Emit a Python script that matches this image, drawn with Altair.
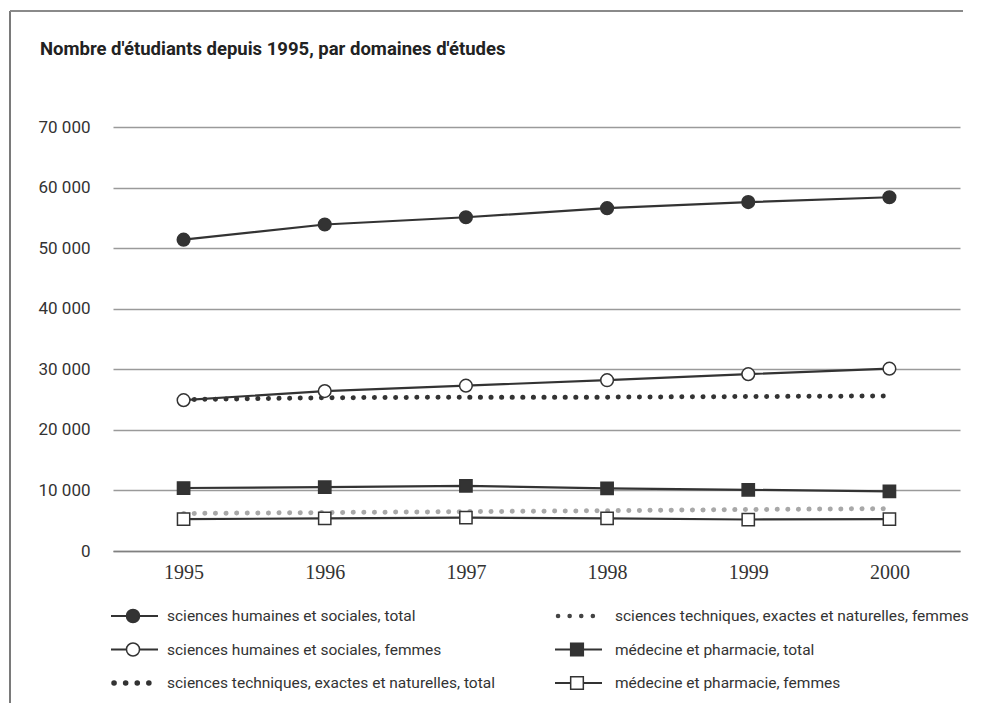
import altair as alt
import pandas as pd

# ---------------- data ----------------
years = [1995, 1996, 1997, 1998, 1999, 2000]
series_names = [
    "sciences humaines et sociales, total",
    "sciences humaines et sociales, femmes",
    "sciences techniques, exactes et naturelles, total",
    "sciences techniques, exactes et naturelles, femmes",
    "médecine et pharmacie, total",
    "médecine et pharmacie, femmes",
]
shs_total = [51400, 53900, 55100, 56600, 57600, 58400]
shs_femmes = [24900, 26400, 27300, 28200, 29200, 30100]
sten_total = [25000, 25300, 25400, 25400, 25500, 25600]
sten_femmes = [6200, 6350, 6500, 6650, 6850, 7000]
med_total = [10400, 10550, 10750, 10350, 10100, 9850]
med_femmes = [5250, 5400, 5500, 5400, 5200, 5250]
y_ticks = [0, 10000, 20000, 30000, 40000, 50000, 60000, 70000]
title_text = "Nombre d'étudiants depuis 1995, par domaines d'études"

values = [shs_total, shs_femmes, sten_total, sten_femmes, med_total, med_femmes]
rows = []
for name, vals in zip(series_names, values):
    for yr, v in zip(years, vals):
        rows.append({"year": yr, "series": name, "value": v})
df = pd.DataFrame(rows)

DARK = "#333333"
GRAY = "#a8a8a8"
SANS = "Roboto"
SERIF = "Liberation Serif"

x_enc = alt.X("year:O", scale=alt.Scale(type="point", padding=0.5, domain=years),
              axis=alt.Axis(title=None, labelAngle=0, labelFont=SERIF, labelFontSize=20,
                            labelColor=DARK, labelPadding=11, ticks=False, domain=True,
                            domainColor="#808080", domainWidth=1.5, grid=False))
y_enc = alt.Y("value:Q", scale=alt.Scale(domain=[0, 70000], nice=False),
              axis=alt.Axis(title=None, values=y_ticks, labelFont=SANS, labelFontSize=17,
                            labelColor=DARK, labelPadding=23, ticks=False, domain=False,
                            grid=True, gridColor="#9a9a9a", gridWidth=1.5,
                            labelExpr="replace(format(datum.value, ',d'), ',', ' ')"))

base = alt.Chart(df)

lines_solid = [series_names[0], series_names[1], series_names[4], series_names[5]]
lines = base.transform_filter(alt.FieldOneOfPredicate(field="series", oneOf=lines_solid)).mark_line(
    color=DARK, strokeWidth=2.2).encode(x=x_enc, y=y_enc, detail="series:N")

dot_total = base.transform_filter(alt.datum.series == series_names[2]).mark_line(
    color=DARK, strokeWidth=5, strokeDash=[0.1, 10.5], strokeCap="round").encode(
    x=x_enc, y=y_enc)
dot_fem = base.transform_filter(alt.datum.series == series_names[3]).mark_line(
    color=GRAY, strokeWidth=5, strokeDash=[0.1, 10.5], strokeCap="round").encode(
    x=x_enc, y=y_enc)

def markers(name, shape, fill, size):
    return base.transform_filter(alt.datum.series == name).mark_point(
        shape=shape, filled=True, fill=fill, stroke=DARK, strokeWidth=1.5,
        size=size, opacity=1).encode(x=x_enc, y=y_enc)

main = alt.layer(
    dot_fem,
    lines,
    dot_total,
    markers(series_names[0], "circle", DARK, 160),
    markers(series_names[1], "circle", "white", 160),
    markers(series_names[4], "square", DARK, 150),
    markers(series_names[5], "square", "white", 150),
)

# ---------------- legend (two columns, three rows) ----------------
leg_col = [0, 0, 0, 1, 1, 1]
leg_row = [0, 1, 2, 0, 1, 2]
leg_kind = ["fcircle", "ocircle", "dots", "dotsf", "fsquare", "osquare"]
COLX = 444
leg = pd.DataFrame({
    "label": series_names,
    "row": leg_row,
    "kind": leg_kind,
    "x0": [c * COLX - 2 for c in leg_col],
    "x1": [c * COLX + 45 for c in leg_col],
    "xm": [c * COLX + 20 for c in leg_col],
    "d0": [c * COLX + 1 for c in leg_col],
    "d1": [c * COLX + 36 for c in leg_col],
    "xt": [c * COLX + 54 + (4 if c else 0) for c in leg_col],
})
lx = lambda f: alt.X(f"{f}:Q", scale=alt.Scale(domain=[0, 847], range=[0, 847]), axis=None)
ly = alt.Y("row:Q", scale=alt.Scale(domain=[0, 2], range=[489, 556]), axis=None)
lbase = alt.Chart(leg)

leg_lines = lbase.transform_filter(
    alt.FieldOneOfPredicate(field="kind", oneOf=["fcircle", "ocircle", "fsquare", "osquare"])
).mark_rule(color=DARK, strokeWidth=2.2).encode(x=lx("x0"), x2="x1:Q", y=ly)
leg_dots = lbase.transform_filter(alt.datum.kind == "dots").mark_rule(
    color=DARK, strokeWidth=5.5, strokeDash=[0.1, 11.5], strokeCap="round").encode(
    x=lx("d0"), x2="d1:Q", y=ly)
leg_dotsf = lbase.transform_filter(alt.datum.kind == "dotsf").mark_rule(
    color="#444444", strokeWidth=4.5, strokeDash=[0.1, 11.5], strokeCap="round").encode(
    x=lx("d0"), x2="d1:Q", y=ly)

def leg_marker(kind, shape, fill, size):
    return lbase.transform_filter(alt.datum.kind == kind).mark_point(
        shape=shape, filled=True, fill=fill, stroke=DARK, strokeWidth=1.5,
        size=size, opacity=1).encode(x=lx("xm"), y=ly)

leg_text = lbase.mark_text(align="left", baseline="middle", font=SANS, fontSize=15.5,
                           color=DARK).encode(x=lx("xt"), y=ly, text="label:N")

# decorative frame of the scanned page and the heading
frame_df = pd.DataFrame({"t": [title_text]})
fbase = alt.Chart(frame_df)
frame_left = fbase.mark_rule(color="#7a7a7a", strokeWidth=2).encode(
    x=alt.value(-103), y=alt.value(-116), y2=alt.value(576))
frame_top = fbase.mark_rule(color="#8a8a8a", strokeWidth=2).encode(
    x=alt.value(-103), x2=alt.value(850), y=alt.value(-116))
heading = fbase.mark_text(align="left", baseline="alphabetic", font=SANS, fontSize=18.5,
                          fontWeight="bold", color="#222222").encode(
    x=alt.value(-73), y=alt.value(-72), text="t:N")

overlay = alt.layer(
    leg_lines, leg_dots, leg_dotsf,
    leg_marker("fcircle", "circle", DARK, 170),
    leg_marker("ocircle", "circle", "white", 170),
    leg_marker("fsquare", "square", DARK, 160),
    leg_marker("osquare", "square", "white", 160),
    leg_text, frame_left, frame_top, heading,
)

chart = alt.layer(main, overlay).resolve_scale(x="independent", y="independent").properties(
    width=847, height=424, padding={"left": 1, "top": 2, "right": 0, "bottom": 0},
    background="white",
).configure_view(stroke=None)

chart.save("out.html", embed_options={"renderer": "svg", "actions": False})
